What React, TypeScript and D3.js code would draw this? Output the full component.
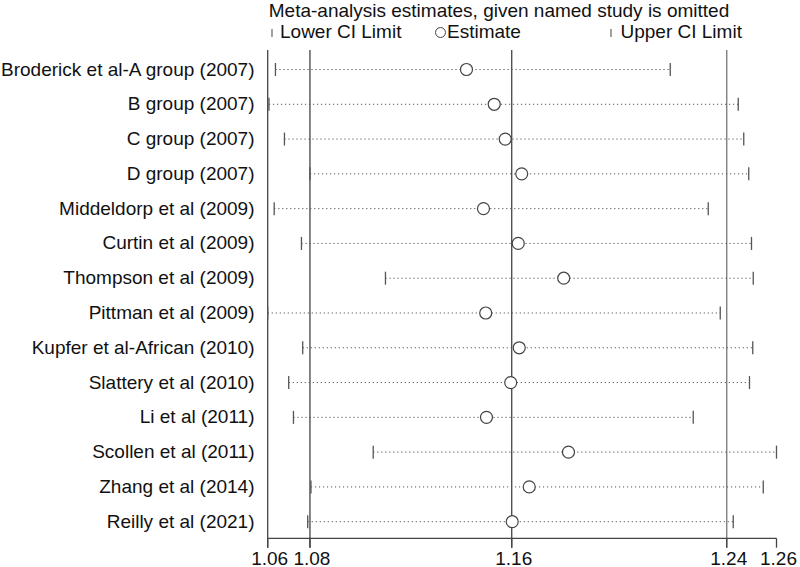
import React from "react";
import * as d3 from "d3";

const studies = [
  "Broderick et al-A group (2007)",
  "B group (2007)",
  "C group (2007)",
  "D group (2007)",
  "Middeldorp et al (2009)",
  "Curtin et al (2009)",
  "Thompson et al (2009)",
  "Pittman et al (2009)",
  "Kupfer et al-African (2010)",
  "Slattery et al (2010)",
  "Li et al (2011)",
  "Scollen et al (2011)",
  "Zhang et al (2014)",
  "Reilly et al (2021)",
];
const lowerCI = [1.0635, 1.0609, 1.0671, 1.0773, 1.063, 1.0739, 1.1075, 1.0604, 1.0744, 1.0688, 1.0707, 1.1026, 1.0777, 1.0764];
const estimate = [1.1399, 1.151, 1.1554, 1.162, 1.1467, 1.1606, 1.1788, 1.1476, 1.161, 1.1576, 1.1479, 1.1807, 1.165, 1.1582];
const upperCI = [1.2214, 1.2486, 1.2508, 1.2528, 1.2366, 1.2539, 1.2546, 1.2414, 1.2544, 1.2531, 1.2306, 1.2639, 1.2586, 1.2466];
// overall estimate and its CI
const overall = { lower: 1.0773, est: 1.158, upper: 1.244 };
const title = "Meta-analysis estimates, given named study is omitted";
const legendLabels = ["Lower CI Limit", "Estimate", "Upper CI Limit"];

const W = 800, H = 567;
const FONT = "Arial, 'Liberation Sans', sans-serif";

export default function App() {
  const minV = d3.min(lowerCI) as number;
  const maxV = d3.max(upperCI) as number;
  const x = d3.scaleLinear().domain([overall.est - 0.0976, overall.est + 0.1059]).range([267.7, 776.5]);
  const y = d3.scalePoint().domain(studies).range([69.5, 521.7]);
  const top = 50, axisY = 538.3, tickEnd = 547.7;
  const ticks = [minV, overall.lower, overall.est, overall.upper, maxV];
  const fmt = d3.format(".2f");
  const lineCol = "#444";
  return (
    <svg width={W} height={H} style={{ position: "absolute", left: 0, top: 0, background: "#fff" }} fontFamily={FONT}>
      <rect width={W} height={H} fill="#fff" />
      <text x={499} y={16.5} fontSize={19} textAnchor="middle" fill="#111">{title}</text>
      {/* legend */}
      <line x1={272} x2={272} y1={29} y2={37} stroke="#555" strokeWidth={1.1} />
      <text x={280} y={38} fontSize={19} fill="#111">{legendLabels[0]}</text>
      <circle cx={440.5} cy={32.5} r={5} fill="none" stroke="#444" strokeWidth={1} />
      <text x={447} y={38} fontSize={19} fill="#111">{legendLabels[1]}</text>
      <line x1={611} x2={611} y1={29} y2={37} stroke="#555" strokeWidth={1.1} />
      <text x={620.5} y={38} fontSize={19} fill="#111">{legendLabels[2]}</text>

      {/* reference vertical lines */}
      <line x1={x(minV)} x2={x(minV)} y1={top} y2={tickEnd} stroke={lineCol} strokeWidth={1.3} />
      <line x1={x(overall.lower)} x2={x(overall.lower)} y1={top} y2={tickEnd} stroke={lineCol} strokeWidth={1.3} />
      <line x1={x(overall.est)} x2={x(overall.est)} y1={top} y2={tickEnd} stroke={lineCol} strokeWidth={1.3} />
      <line x1={x(overall.upper)} x2={x(overall.upper)} y1={top} y2={tickEnd} stroke="#777" strokeWidth={1.3} />

      {/* rows */}
      {studies.map((s, i) => {
        const yy = y(s) as number;
        return (
          <g key={s}>
            <text x={254.5} y={yy + 6} fontSize={19} textAnchor="end" fill="#111">{s}</text>
            <line x1={x(lowerCI[i])} x2={x(upperCI[i])} y1={yy} y2={yy} stroke="#555" strokeWidth={1} strokeDasharray="1.2,2.8" />
            <line x1={x(lowerCI[i])} x2={x(lowerCI[i])} y1={yy - 6.5} y2={yy + 6.5} stroke="#555" strokeWidth={1.3} />
            <line x1={x(upperCI[i])} x2={x(upperCI[i])} y1={yy - 6.5} y2={yy + 6.5} stroke="#555" strokeWidth={1.3} />
            <circle cx={x(estimate[i])} cy={yy} r={6} fill="#fff" stroke="#444" strokeWidth={1.2} />
          </g>
        );
      })}

      {/* x axis */}
      <line x1={x(minV)} x2={x(maxV)} y1={axisY} y2={axisY} stroke={lineCol} strokeWidth={1.3} />
      {ticks.map((t, i) => (
        <g key={i}>
          <line x1={x(t)} x2={x(t)} y1={axisY} y2={tickEnd} stroke={lineCol} strokeWidth={1.3} />
          <text x={x(t) + 2} y={564.5} fontSize={19} textAnchor="middle" fill="#111">{fmt(t)}</text>
        </g>
      ))}
    </svg>
  );
}
